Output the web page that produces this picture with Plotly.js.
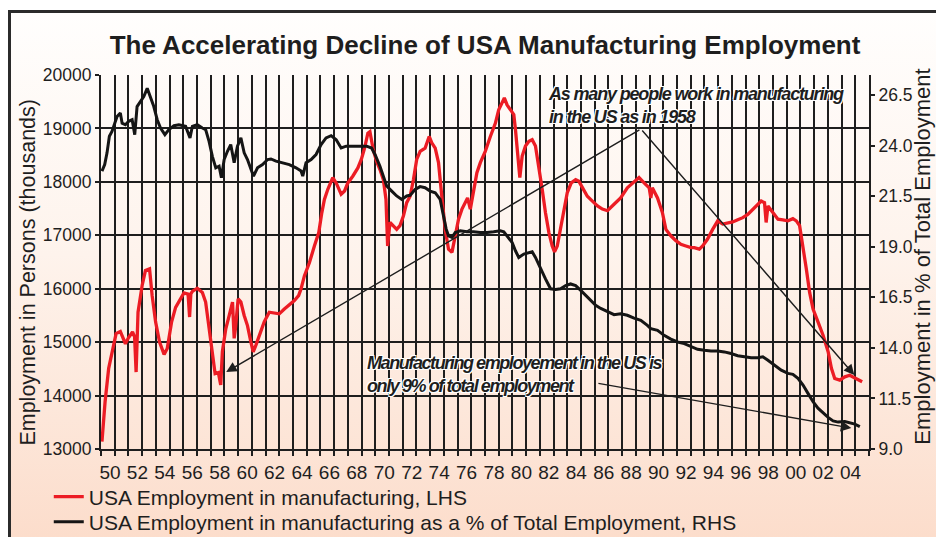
<!DOCTYPE html>
<html><head><meta charset="utf-8">
<script src="https://cdn.plot.ly/plotly-3.0.1.min.js"></script>
<style>
html,body{margin:0;padding:0;background:#fff;}
#wrap{position:absolute;left:0;top:0;width:936px;height:537px;background:#fff;overflow:hidden;}
#frame{position:absolute;left:8px;top:10px;width:940px;height:540px;box-sizing:border-box;border-left:3px solid #2b2b2b;border-top:3px solid #2b2b2b;background:linear-gradient(to bottom,#fffefd 0%,#fef3ec 45%,#fcdcca 100%);}
#chart{position:absolute;left:0;top:0;width:936px;height:537px;}
</style></head>
<body><div id="wrap"><div id="frame"></div><div id="chart"></div></div>
<script>
// ---- Data ----
const redYears = [1950.07,1950.3,1950.56,1950.76,1950.93,1951.1,1951.41,1951.78,1952.0,1952.3,1952.45,1952.56,1952.7,1953.0,1953.24,1953.54,1953.73,1953.98,1954.27,1954.6,1954.83,1955.15,1955.44,1955.8,1956.05,1956.35,1956.46,1956.55,1956.66,1957.02,1957.39,1957.63,1957.88,1958.12,1958.32,1958.56,1958.73,1958.85,1959.1,1959.29,1959.46,1959.59,1959.71,1959.8,1960.0,1960.2,1960.44,1960.68,1960.93,1961.1,1961.29,1961.66,1961.9,1962.27,1962.63,1963.0,1963.37,1963.73,1964.1,1964.41,1964.59,1964.83,1965.2,1965.56,1965.88,1966.1,1966.29,1966.54,1966.9,1967.15,1967.34,1967.51,1967.76,1968.0,1968.37,1968.73,1968.98,1969.22,1969.46,1969.61,1969.85,1970.1,1970.34,1970.59,1970.78,1970.9,1971.07,1971.32,1971.56,1971.8,1972.05,1972.29,1972.54,1972.78,1973.02,1973.27,1973.63,1973.93,1974.12,1974.37,1974.61,1974.85,1975.1,1975.34,1975.59,1975.83,1976.07,1976.32,1976.56,1976.73,1976.93,1977.17,1977.41,1977.66,1978.02,1978.39,1978.76,1979.0,1979.24,1979.41,1979.61,1979.85,1980.1,1980.22,1980.39,1980.54,1980.71,1980.95,1981.2,1981.44,1981.68,1981.93,1982.17,1982.41,1982.66,1982.9,1983.07,1983.27,1983.51,1983.76,1984.0,1984.29,1984.61,1984.85,1985.1,1985.46,1985.83,1986.2,1986.56,1986.93,1987.41,1987.89,1988.38,1988.87,1989.23,1989.6,1989.97,1990.09,1990.2,1990.58,1990.94,1991.19,1991.55,1991.92,1992.28,1992.65,1993.02,1993.26,1993.63,1993.87,1994.23,1994.6,1994.97,1995.33,1995.7,1996.06,1996.43,1996.8,1997.16,1997.53,1997.89,1998.14,1998.38,1998.5,1998.63,1998.99,1999.36,1999.72,2000.09,2000.45,2000.7,2000.94,2001.19,2001.43,2001.67,2001.92,2002.28,2002.65,2003.02,2003.26,2003.5,2003.87,2004.24,2004.6,2004.97,2005.33,2005.5];
const redEmployment = [13140,13890,14510,14750,14940,15160,15200,14970,15080,15190,15100,14440,15560,16060,16340,16370,15870,15380,15000,14770,14880,15380,15650,15810,15920,15900,15470,15900,15950,16010,15930,15750,15250,14690,14410,14430,14200,14820,15250,15440,15620,15750,15070,15250,15810,15750,15500,15310,15000,14820,14940,15190,15380,15560,15540,15530,15620,15690,15780,15870,16000,16240,16490,16800,17050,17420,17670,17860,18080,17980,17860,17770,17830,17980,18110,18260,18420,18630,18910,18940,18600,18380,18230,18040,17670,16800,17240,17180,17110,17180,17360,17610,17730,18040,18420,18570,18630,18850,18730,18630,18360,17730,17110,16740,16680,16990,17300,17490,17610,17700,17490,17800,18170,18360,18570,18850,19100,19350,19470,19570,19440,19350,19260,18980,18540,18080,18480,18670,18760,18790,18670,18300,17860,17420,17050,16800,16690,16800,17110,17490,17800,17980,18040,18010,17890,17730,17640,17550,17490,17460,17580,17700,17890,18010,18080,17980,17890,17700,17890,17700,17420,17110,16990,16900,16830,16800,16770,16770,16740,16800,16930,17110,17270,17210,17230,17250,17290,17330,17390,17490,17580,17640,17610,17240,17550,17420,17300,17290,17270,17310,17270,17180,16800,16370,15930,15620,15380,15130,14820,14510,14320,14290,14350,14380,14330,14290,14260];

const blackYears = [1950.07,1950.27,1950.44,1950.61,1950.8,1951.0,1951.17,1951.41,1951.54,1951.78,1952.02,1952.27,1952.46,1952.63,1952.88,1953.12,1953.37,1953.61,1953.85,1954.1,1954.34,1954.66,1954.95,1955.32,1955.68,1956.17,1956.49,1956.66,1957.02,1957.39,1957.63,1957.88,1958.12,1958.37,1958.61,1958.78,1958.98,1959.22,1959.46,1959.71,1959.95,1960.2,1960.44,1960.68,1960.93,1961.12,1961.41,1961.78,1962.15,1962.39,1962.76,1963.24,1963.73,1964.22,1964.59,1964.71,1964.95,1965.32,1965.68,1966.05,1966.41,1966.78,1967.15,1967.51,1967.88,1968.37,1968.85,1969.37,1969.73,1969.98,1970.34,1970.59,1970.83,1971.2,1971.56,1971.93,1972.29,1972.54,1972.9,1973.27,1973.63,1974.0,1974.37,1974.73,1974.98,1975.17,1975.34,1975.59,1975.83,1976.2,1976.68,1977.17,1977.66,1978.15,1978.63,1979.12,1979.37,1979.61,1979.98,1980.22,1980.46,1980.83,1981.2,1981.44,1981.68,1982.05,1982.41,1982.78,1983.15,1983.51,1983.88,1984.24,1984.61,1984.98,1985.34,1985.71,1986.07,1986.44,1986.92,1987.41,1987.89,1988.38,1988.87,1989.36,1989.84,1990.09,1990.58,1991.06,1991.55,1992.04,1992.53,1993.02,1993.5,1993.99,1994.48,1994.97,1995.45,1995.94,1996.43,1996.92,1997.41,1997.89,1998.26,1998.63,1999.11,1999.6,2000.09,2000.45,2000.82,2001.19,2001.55,2001.92,2002.28,2002.65,2003.02,2003.38,2003.75,2004.24,2004.6,2004.97,2005.33];
const blackShare = [22.74,23.06,23.64,24.46,24.70,25.11,25.44,25.61,25.11,25.03,25.20,25.28,24.54,25.93,26.18,26.42,26.83,26.42,25.93,25.28,24.87,24.54,24.79,24.98,25.03,24.95,24.38,24.95,25.03,24.87,24.79,24.21,23.47,22.90,22.98,22.41,23.31,23.72,24.05,23.15,23.97,24.38,23.64,23.31,22.82,22.49,22.90,23.06,23.31,23.34,23.23,23.15,23.06,22.90,22.74,22.49,23.15,23.31,23.56,24.05,24.38,24.49,24.29,23.88,23.97,23.97,23.97,23.97,23.88,23.56,22.98,22.49,22.00,21.75,21.51,21.34,21.51,21.54,21.83,21.97,21.92,21.75,21.67,21.34,20.52,19.87,19.54,19.46,19.70,19.79,19.74,19.74,19.70,19.70,19.74,19.79,19.74,19.54,19.21,18.80,18.47,18.64,18.72,18.75,18.47,17.90,17.41,16.92,16.89,16.92,17.08,17.16,17.08,16.84,16.59,16.34,16.10,15.95,15.80,15.64,15.69,15.61,15.47,15.36,15.11,14.95,14.87,14.62,14.43,14.29,14.21,14.05,13.93,13.88,13.84,13.84,13.80,13.72,13.61,13.56,13.51,13.51,13.56,13.39,13.15,12.90,12.74,12.69,12.49,12.16,11.75,11.34,11.02,10.77,10.56,10.39,10.33,10.36,10.28,10.23,10.11];

const yearTicks = [1950,1951,1952,1953,1954,1955,1956,1957,1958,1959,1960,1961,1962,1963,1964,1965,1966,1967,1968,1969,1970,1971,1972,1973,1974,1975,1976,1977,1978,1979,1980,1981,1982,1983,1984,1985,1986,1987,1988,1989,1990,1991,1992,1993,1994,1995,1996,1997,1998,1999,2000,2001,2002,2003,2004,2005,2006];
const yearLabels = ['50','','52','','54','','56','','58','','60','','62','','64','','66','','68','','70','','72','','74','','76','','78','','80','','82','','84','','86','','88','','90','','92','','94','','96','','98','','00','','02','','04','',''];
const leftTicks = [13000,14000,15000,16000,17000,18000,19000,20000];
const leftTickLabels = ['13000','14000','15000','16000','17000','18000','19000','20000'];
const rightTicks = [9.0,11.5,14.0,16.5,19.0,21.5,24.0,26.5];
const rightTickLabels = ['9.0','11.5','14.0','16.5','19.0','21.5','24.0','26.5'];

const seriesNames = ['USA Employment in manufacturing, LHS','USA Employment in manufacturing as a % of Total Employment, RHS'];
const titleText = 'The Accelerating Decline of USA Manufacturing Employment';
const leftTitle = 'Employment in Persons (thousands)';
const rightTitle = 'Employment in % of Total Employment';
const note1Lines = ['As many people work in manufacturing','in the US as in 1958'];
const note2Lines = ['Manufacturing employement in the US is','only 9% of total employment'];

// ---- Styling ----
const INK = '#1e1e1e';
const RED = '#ec1c24';
const BASE = '"Liberation Sans", Arial, sans-serif';
const NARROW = '"Liberation Sans Narrow", "Liberation Sans", Arial, sans-serif';
const halo = 'white 1px 1px 0px, white -1px -1px 0px, white 1px -1px 0px, white -1px 1px 0px, white 0px 1px 0px, white 0px -1px 0px';
const NOTE_SIZE = 18;

// letter spacing that gives the note line the (condensed) width it has in the reference
function fitSpacing(text, targetPx) {
  const c = document.createElement('canvas').getContext('2d');
  c.font = 'italic 700 ' + NOTE_SIZE + 'px ' + NARROW;
  const w = c.measureText(text).width;
  if (!(w > 0)) return 0;
  return Math.max(-2, Math.min(0, (targetPx - w) / text.length));
}
function condensed(lines, targetPx) {
  const ls = fitSpacing(lines[0], targetPx).toFixed(2);
  return lines.map(l => '<span style="letter-spacing:' + ls + 'px">' + l + '</span>').join('<br>');
}

const traces = [
  {x: redYears, y: redEmployment, type: 'scatter', mode: 'lines', name: seriesNames[0],
   line: {color: RED, width: 3.3}, xaxis: 'x', yaxis: 'y', legend: 'legend'},
  {x: blackYears, y: blackShare, type: 'scatter', mode: 'lines', name: seriesNames[1],
   line: {color: '#151515', width: 3}, xaxis: 'x', yaxis: 'y2', legend: 'legend2'}
];

const arrowStyle = {xref: 'x', yref: 'y', axref: 'x', ayref: 'y', text: '', showarrow: true,
  arrowhead: 2, arrowsize: 1.5, arrowwidth: 1.4, arrowcolor: INK, standoff: 0, startstandoff: 0};
const legendCommon = {x: -0.068, xanchor: 'left', yanchor: 'middle', orientation: 'v',
  font: {family: BASE, size: 21, color: INK}, bgcolor: 'rgba(0,0,0,0)', borderwidth: 0, itemwidth: 30};
const noteFont = {family: NARROW, size: NOTE_SIZE, color: INK, weight: 700, style: 'italic', shadow: halo};

const layout = {
  width: 936, height: 537,
  paper_bgcolor: 'rgba(0,0,0,0)', plot_bgcolor: 'rgba(0,0,0,0)',
  margin: {l: 101, r: 67, t: 75, b: 88, pad: 0, autoexpand: false},
  font: {family: BASE, color: INK},
  showlegend: true,
  hovermode: false,
  title: {text: titleText, font: {family: BASE, size: 26, weight: 700, color: INK},
          x: 0.5, xref: 'paper', xanchor: 'center', y: 1 - 45/537, yref: 'container', yanchor: 'middle'},
  xaxis: {range: [1950, 2006], tickmode: 'array', tickvals: yearTicks, ticktext: yearLabels,
          ticks: 'outside', ticklen: 5, tickwidth: 2, tickcolor: INK,
          showgrid: true, gridcolor: INK, gridwidth: 2,
          showline: true, linecolor: INK, linewidth: 2, zeroline: false,
          tickfont: {family: NARROW, size: 19, color: INK}, ticklabelshift: 9, fixedrange: true},
  yaxis: {range: [13000, 20000], tickmode: 'array', tickvals: leftTicks, ticktext: leftTickLabels,
          ticks: 'outside', ticklen: 4, tickwidth: 2, tickcolor: INK,
          showgrid: true, gridcolor: INK, gridwidth: 2,
          showline: true, linecolor: INK, linewidth: 2, zeroline: false,
          tickfont: {family: BASE, size: 17.5, color: INK}, fixedrange: true},
  yaxis2: {range: [9, 27.49], overlaying: 'y', side: 'right', anchor: 'x', tickmode: 'array',
           tickvals: rightTicks, ticktext: rightTickLabels,
           ticks: 'outside', ticklen: 4, tickwidth: 2, tickcolor: INK,
           showgrid: false, showline: true, linecolor: INK, linewidth: 2, zeroline: false,
           tickfont: {family: BASE, size: 17.5, color: INK}, fixedrange: true},
  legend: Object.assign({y: (449 - 497) / 374}, legendCommon),
  legend2: Object.assign({y: (449 - 522) / 374}, legendCommon),
  annotations: [
    {text: leftTitle, xref: 'paper', yref: 'paper', x: -0.0951, y: 0.005, xanchor: 'center', yanchor: 'bottom',
     textangle: -90, showarrow: false, font: {family: BASE, size: 21.5, color: INK}},
    {text: rightTitle, xref: 'paper', yref: 'paper', x: 1.0697, y: 0.005, xanchor: 'center', yanchor: 'bottom',
     textangle: -90, showarrow: false, font: {family: BASE, size: 22, color: INK}},
    {text: condensed(note1Lines, 294), xref: 'x', yref: 'y', x: 1982.43, y: 19420, xanchor: 'left', yanchor: 'middle',
     align: 'left', showarrow: false, font: noteFont},
    {text: condensed(note2Lines, 294), xref: 'x', yref: 'y', x: 1969.28, y: 14403, xanchor: 'left', yanchor: 'middle',
     align: 'left', showarrow: false, font: noteFont},
    Object.assign({x: 1959.13, y: 14440, ax: 1989.37, ay: 18989}, arrowStyle),
    Object.assign({x: 2004.93, y: 14384, ax: 1989.37, ay: 18989}, arrowStyle),
    Object.assign({x: 2004.71, y: 13392, ax: 1986.16, ay: 14234}, arrowStyle)
  ]
};

Plotly.newPlot('chart', traces, layout, {displayModeBar: false, staticPlot: true});
</script>
</body></html>
